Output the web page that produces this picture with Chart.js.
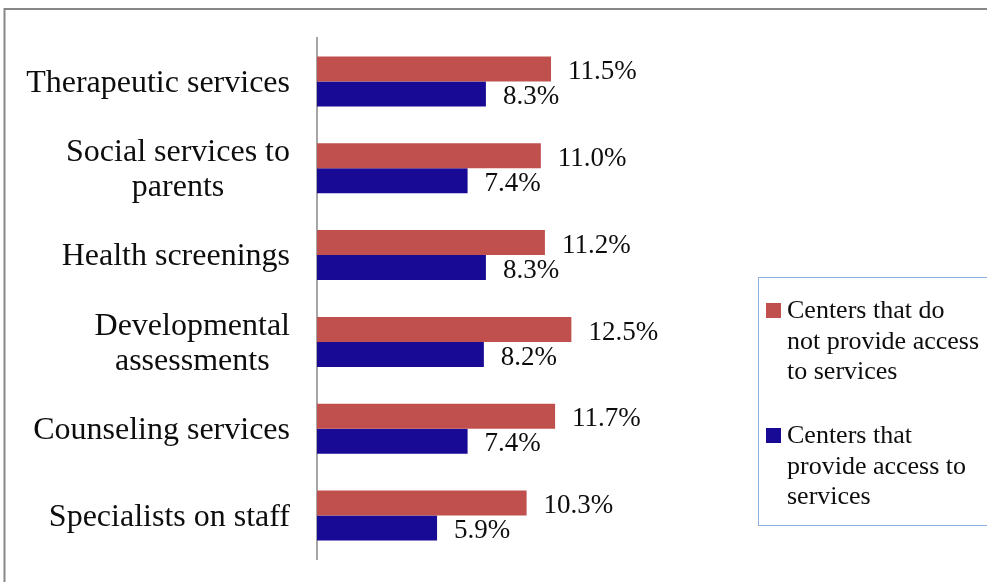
<!DOCTYPE html>
<html>
<head>
<meta charset="utf-8">
<script src="https://cdn.jsdelivr.net/npm/chart.js@4.4.1/dist/chart.umd.min.js"></script>
<style>
  html, body { margin: 0; padding: 0; background: #ffffff; }
  canvas { display: block; }
</style>
</head>
<body>
<canvas id="chart" width="987" height="582"></canvas>
<script>
// Service categories (multi-line labels are arrays of lines)
const categories = [
  ['Therapeutic services'],
  ['Social services to', 'parents'],
  ['Health screenings'],
  ['Developmental', 'assessments'],
  ['Counseling services'],
  ['Specialists on staff']
];

// Percentages per category
const noAccessValues = [11.5, 11.0, 11.2, 12.5, 11.7, 10.3];
const accessValues   = [8.3, 7.4, 8.3, 8.2, 7.4, 5.9];

// Legend text, one array of lines per series
const seriesLabels = [
  ['Centers that do', 'not provide access', 'to services'],
  ['Centers that', 'provide access to', 'services']
];

const seriesColors = ['#C0504D', '#180A94'];
const FONT = '"Liberation Serif", "Times New Roman", serif';
const TEXT_COLOR = '#0d0d0d';

// Gray frame around the whole figure
const framePlugin = {
  id: 'frame',
  beforeDraw(chart) {
    const ctx = chart.ctx;
    ctx.save();
    ctx.strokeStyle = '#878787';
    ctx.lineWidth = 2;
    ctx.beginPath();
    ctx.moveTo(4.5, 600);
    ctx.lineTo(4.5, 9);
    ctx.lineTo(1000, 9);
    ctx.stroke();
    ctx.restore();
  }
};

// Category names, each block right-aligned to the axis with its lines centred
const categoryLabelPlugin = {
  id: 'categoryLabels',
  afterDraw(chart) {
    const ctx = chart.ctx;
    const yScale = chart.scales.y;
    const rightEdge = 290;
    const lineHeight = 35;
    ctx.save();
    ctx.font = '32px ' + FONT;
    ctx.fillStyle = TEXT_COLOR;
    ctx.textAlign = 'center';
    ctx.textBaseline = 'middle';
    categories.forEach((lines, i) => {
      const yc = yScale.getPixelForValue(i) + 2;
      const maxW = Math.max(...lines.map(l => ctx.measureText(l).width));
      const xc = rightEdge - maxW / 2;
      const y0 = yc - (lines.length - 1) * lineHeight / 2;
      lines.forEach((line, k) => ctx.fillText(line, xc, y0 + k * lineHeight));
    });
    ctx.restore();
  }
};

// Value labels to the right of every bar
const valueLabelPlugin = {
  id: 'valueLabels',
  afterDatasetsDraw(chart) {
    const ctx = chart.ctx;
    ctx.save();
    ctx.font = '27px ' + FONT;
    ctx.fillStyle = TEXT_COLOR;
    ctx.textAlign = 'left';
    ctx.textBaseline = 'middle';
    chart.data.datasets.forEach((ds, di) => {
      const meta = chart.getDatasetMeta(di);
      meta.data.forEach((bar, i) => {
        ctx.fillText(ds.data[i].toFixed(1) + '%', bar.x + 17, bar.y + 3);
      });
    });
    ctx.restore();
  }
};

// Boxed legend with wrapped series names
const boxLegendPlugin = {
  id: 'boxLegend',
  afterDraw(chart) {
    const ctx = chart.ctx;
    ctx.save();
    ctx.strokeStyle = '#8DB0DC';
    ctx.lineWidth = 1;
    ctx.strokeRect(758.5, 277.5, 260, 248);
    ctx.font = '26px ' + FONT;
    ctx.fillStyle = TEXT_COLOR;
    ctx.textAlign = 'left';
    ctx.textBaseline = 'alphabetic';
    const firstBaselines = [318, 443];
    const lineHeight = 30.6;
    chart.data.datasets.forEach((ds, di) => {
      const base = firstBaselines[di];
      ctx.fillStyle = ds.backgroundColor;
      ctx.fillRect(766, base - 15, 15, 15);
      ctx.fillStyle = TEXT_COLOR;
      seriesLabels[di].forEach((line, k) => {
        ctx.fillText(line, 787, base + k * lineHeight);
      });
    });
    ctx.restore();
  }
};

new Chart(document.getElementById('chart'), {
  type: 'bar',
  data: {
    labels: categories,
    datasets: [
      {
        label: seriesLabels[0].join(' '),
        data: noAccessValues,
        backgroundColor: seriesColors[0],
        categoryPercentage: 0.576,
        barPercentage: 1.0
      },
      {
        label: seriesLabels[1].join(' '),
        data: accessValues,
        backgroundColor: seriesColors[1],
        categoryPercentage: 0.576,
        barPercentage: 1.0
      }
    ]
  },
  options: {
    indexAxis: 'y',
    responsive: false,
    devicePixelRatio: 1,
    animation: false,
    layout: { padding: { left: 0, top: 38, bottom: 23, right: 263 } },
    plugins: {
      legend: { display: false },
      tooltip: { enabled: false }
    },
    scales: {
      x: {
        display: false,
        min: 0,
        max: 20
      },
      y: {
        grid: { display: false, drawTicks: false },
        border: { display: true, color: '#A6A6A6', width: 2 },
        ticks: { display: false },
        afterFit(scale) { scale.width = 317; }
      }
    }
  },
  plugins: [framePlugin, categoryLabelPlugin, valueLabelPlugin, boxLegendPlugin]
});
</script>
</body>
</html>
